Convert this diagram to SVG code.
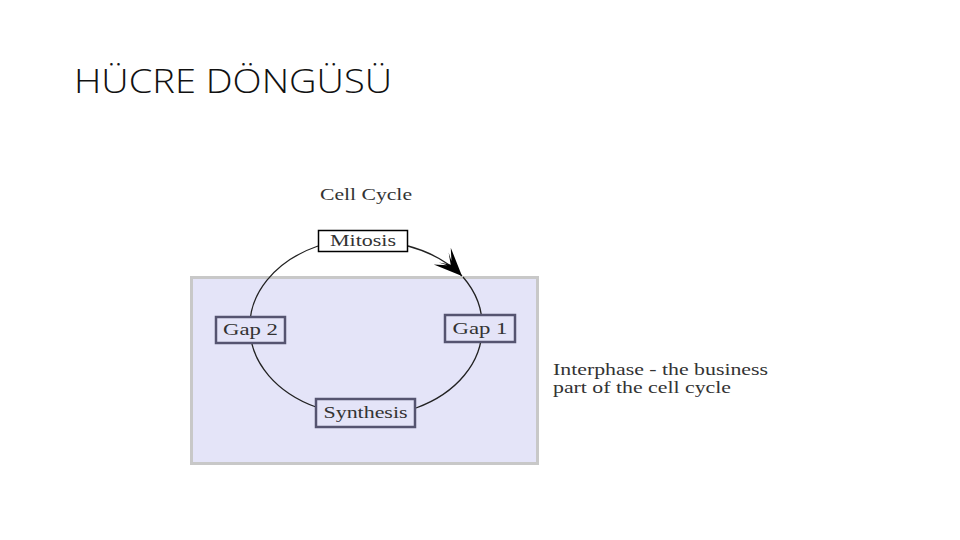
<svg xmlns="http://www.w3.org/2000/svg" width="960" height="540" viewBox="0 0 960 540">
<style>
.title{font-family:"Open Sans","Noto Sans",sans-serif;font-size:33px;fill:#111;font-weight:300}
.serif{font-family:"Liberation Serif","DejaVu Serif",serif;fill:#333}
.lbl{font-size:16px}
.phase{fill:#e4e4f8;stroke:#555470;stroke-width:2.5}
</style>
<defs>
<marker id="ah" viewBox="0 0 30 30" refX="28" refY="15" markerWidth="30" markerHeight="30" markerUnits="userSpaceOnUse" orient="auto">
<path d="M28 15 L0 3 L10 12 L2 8 L12 15 L2 22 L10 18 L0 27 Z" fill="#000"/>
</marker>
</defs>
<rect width="960" height="540" fill="#fff"/>
<text class="title" x="74" y="93" textLength="318" lengthAdjust="spacingAndGlyphs">HÜCRE DÖNGÜSÜ</text>
<text class="serif lbl" x="320" y="200" textLength="92" lengthAdjust="spacingAndGlyphs">Cell Cycle</text>
<g id="interphase">
<rect x="191.5" y="277.5" width="346" height="186" fill="#e4e4f8" stroke="#c8c8c8" stroke-width="3"/>
</g>
<g id="connectors" fill="none" stroke="#222" stroke-width="1.3">
<path d="M318 246 A116 88 0 0 0 250 330"/>
<path d="M250 330 A116 88 0 0 0 316 407"/>
<path d="M416 408 A116 88 0 0 0 482 328"/>
<path d="M482 328 A116 88 0 0 0 463 277"/>
<path d="M408 246 A116 88 0 0 1 462 276" marker-end="url(#ah)"/>
</g>
<g id="mitosis">
<rect x="318.5" y="230.5" width="89" height="21" fill="#fff" stroke="#000" stroke-width="1.5"/>
<text class="serif lbl" x="363" y="246" text-anchor="middle" textLength="66" lengthAdjust="spacingAndGlyphs">Mitosis</text>
</g>
<g id="gap2">
<rect class="phase" x="216" y="317" width="69" height="26"/>
<text class="serif lbl" x="250.5" y="335" text-anchor="middle" textLength="55" lengthAdjust="spacingAndGlyphs">Gap 2</text>
</g>
<g id="gap1">
<rect class="phase" x="445" y="315" width="70" height="27"/>
<text class="serif lbl" x="480" y="334" text-anchor="middle" textLength="55" lengthAdjust="spacingAndGlyphs">Gap 1</text>
</g>
<g id="synthesis">
<rect class="phase" x="316" y="399" width="99" height="28"/>
<text class="serif lbl" x="365.5" y="418" text-anchor="middle" textLength="84" lengthAdjust="spacingAndGlyphs">Synthesis</text>
</g>
<g id="note">
<text class="serif lbl" x="553" y="375" textLength="215" lengthAdjust="spacingAndGlyphs">Interphase - the business</text>
<text class="serif lbl" x="553" y="393" textLength="178" lengthAdjust="spacingAndGlyphs">part of the cell cycle</text>
</g>
</svg>
